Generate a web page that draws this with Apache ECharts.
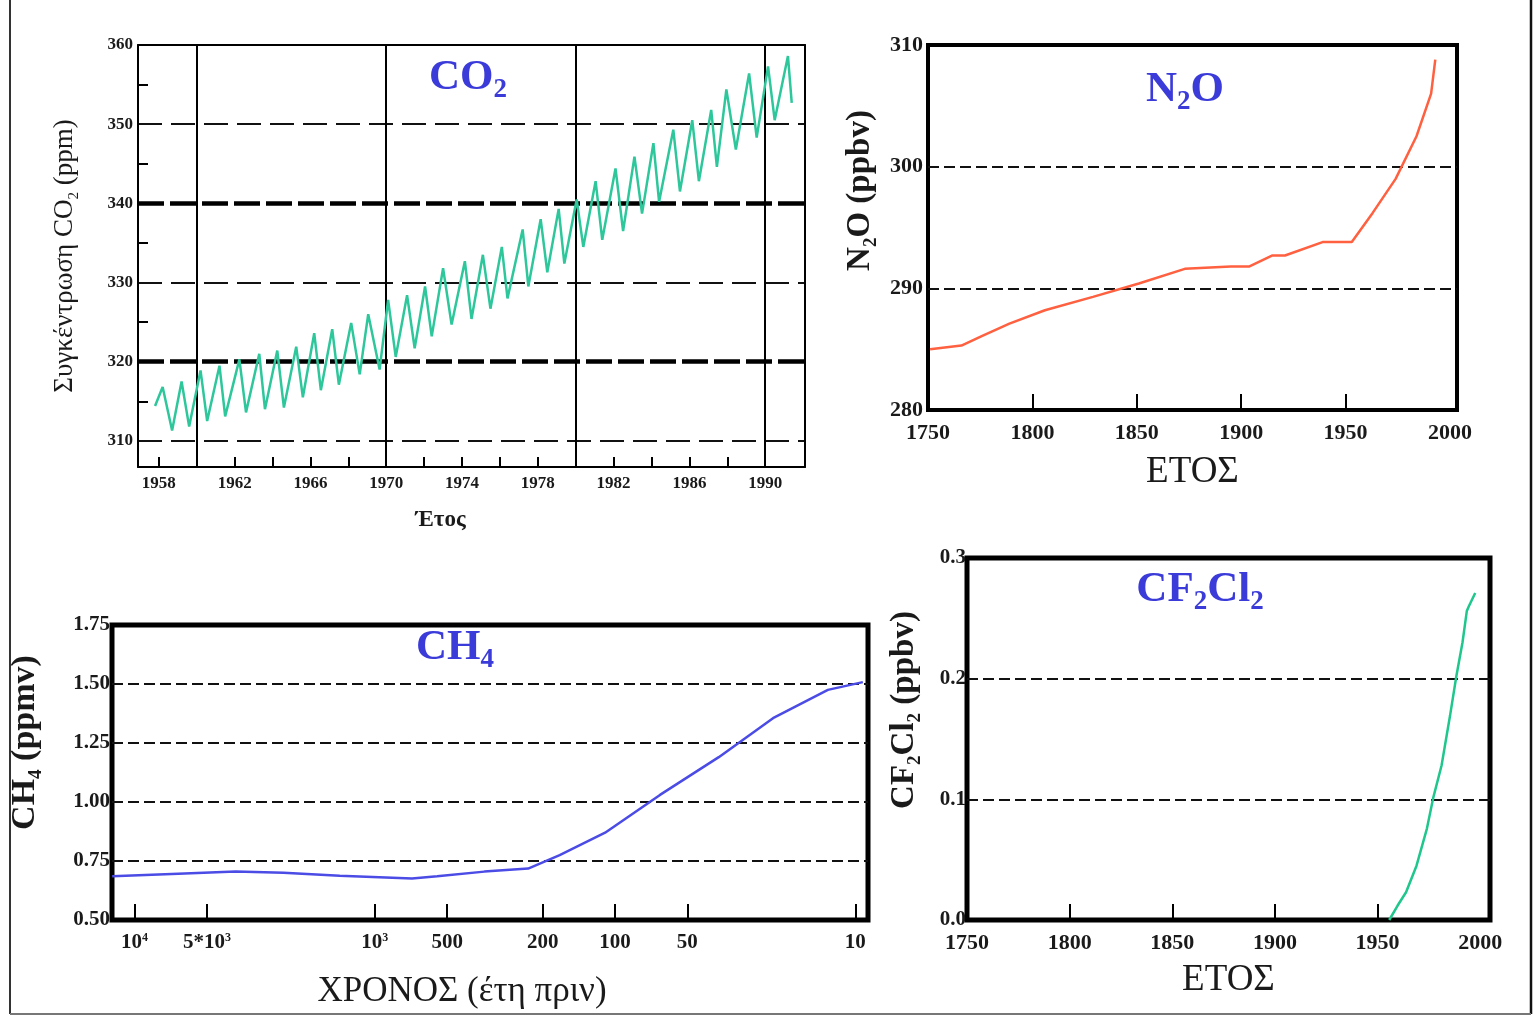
<!DOCTYPE html>
<html><head><meta charset="utf-8">
<script src="https://cdn.jsdelivr.net/npm/echarts@6/dist/echarts.min.js"></script>
<style>html,body{margin:0;padding:0;background:#fff}#c{width:1537px;height:1016px}</style>
</head><body><div id="c"></div>
<script>
// ---------- DATA ----------
// CO2 (seasonal record), years and ppm
const co2Years = [1957.8, 1958.2, 1958.7, 1959.2, 1959.6, 1960.2, 1960.55, 1961.2, 1961.5, 1962.25, 1962.6,
  1963.3, 1963.6, 1964.25, 1964.6, 1965.25, 1965.6, 1966.2, 1966.55, 1967.15, 1967.5, 1968.15, 1968.6,
  1969.05, 1969.65, 1970.1, 1970.5, 1971.1, 1971.5, 1972.05, 1972.4, 1973.0, 1973.45, 1974.15, 1974.5,
  1975.1, 1975.5, 1976.1, 1976.4, 1977.2, 1977.5, 1978.15, 1978.5, 1979.1, 1979.4, 1980.05, 1980.4,
  1981.05, 1981.4, 1982.1, 1982.5, 1983.1, 1983.5, 1984.1, 1984.4, 1985.15, 1985.5, 1986.15, 1986.5,
  1987.15, 1987.45, 1987.95, 1988.45, 1989.15, 1989.55, 1990.15, 1990.5, 1991.2, 1991.4];
const co2Values = [314.4, 316.8, 311.3, 317.5, 311.8, 318.9, 312.5, 319.5, 313.1, 320.3, 313.6,
  321.0, 314.0, 321.4, 314.2, 321.9, 315.5, 323.6, 316.4, 324.1, 317.1, 324.9, 318.4,
  326.0, 319.0, 327.8, 320.6, 328.4, 321.7, 329.5, 323.2, 331.8, 324.7, 332.7, 325.4,
  333.5, 326.7, 334.5, 328.0, 336.7, 329.5, 338.0, 331.3, 339.3, 332.4, 340.5, 334.5,
  342.8, 335.4, 344.4, 336.5, 345.9, 338.7, 347.6, 340.2, 349.3, 341.5, 350.5, 342.8,
  351.8, 344.6, 354.4, 346.8, 356.4, 348.3, 357.3, 350.5, 358.6, 352.7];
const co2TickYears = [1958, 1960, 1962, 1964, 1966, 1968, 1970, 1972, 1974, 1976, 1978, 1980, 1982, 1984, 1986, 1988, 1990];
const co2LabelYears = [1958, 1962, 1966, 1970, 1974, 1978, 1982, 1986, 1990];
const co2DecadeYears = [1960, 1970, 1980, 1990];
const co2LabelValues = [310, 320, 330, 340, 350, 360];
const co2MinorTicks = [315, 325, 335, 345, 355];
const co2ThickGrid = [320, 340];
const co2ThinGrid = [310, 330, 350];

// N2O (ppbv)
const n2oYears = [1751, 1766, 1776, 1789, 1806, 1829, 1851, 1873, 1895, 1904, 1915, 1921, 1939, 1953, 1963, 1974, 1984, 1991, 1993];
const n2oValues = [285.0, 285.3, 286.1, 287.1, 288.2, 289.3, 290.4, 291.6, 291.8, 291.8, 292.7, 292.7, 293.8, 293.8, 296.2, 299.0, 302.5, 306.0, 308.8];
const n2oLabelYears = [1750, 1800, 1850, 1900, 1950, 2000];
const n2oTickYears = [1800, 1850, 1900, 1950];
const n2oLabelValues = [280, 290, 300, 310];
const n2oGrid = [290, 300];

// CH4 (ppmv) vs years before present
const ch4YearsBP = [12400, 7000, 3800, 2400, 1400, 700, 550, 350, 230, 170, 110, 65, 37, 22, 13, 9.3];
const ch4Values = [0.685, 0.695, 0.705, 0.700, 0.688, 0.676, 0.685, 0.705, 0.718, 0.775, 0.870, 1.030, 1.190, 1.355, 1.475, 1.508];
const ch4TickValues = [10000, 5000, 1000, 500, 200, 100, 50, 10];
const ch4TickLabels = ['10⁴', '5*10³', '10³', '500', '200', '100', '50', '10'];
const ch4LabelValues = [0.5, 0.75, 1.0, 1.25, 1.5, 1.75];
const ch4Grid = [0.75, 1.0, 1.25, 1.5];

// CF2Cl2 (ppbv)
const cfcYears = [1955.7, 1959.8, 1963.9, 1969.0, 1974.1, 1977.1, 1981.2, 1985.3, 1988.4, 1991.4, 1993.5, 1994.5, 1997.6];
const cfcValues = [0.000, 0.012, 0.023, 0.045, 0.076, 0.101, 0.128, 0.169, 0.202, 0.230, 0.256, 0.260, 0.271];
const cfcLabelYears = [1750, 1800, 1850, 1900, 1950, 2000];
const cfcTickYears = [1800, 1850, 1900, 1950];
const cfcLabelValues = [0.0, 0.1, 0.2, 0.3];
const cfcGrid = [0.1, 0.2];

// ---------- CHART ----------
const F = 'Liberation Serif';
const TXT = '#1a1a1a';
const BLUE = '#3b3bd9';
const zip = (a, b) => a.map((v, i) => [v, b[i]]);
const plain = v => String(Math.round(v));
const supMap = {'⁰':'0','¹':'1','²':'2','³':'3','⁴':'4','⁵':'5','⁶':'6','⁷':'7','⁸':'8','⁹':'9'};
function richSup(s) {
  let out = '', buf = '';
  for (const ch of s) {
    if (supMap[ch]) { if (buf) { out += '{a|' + buf + '}'; buf = ''; } out += '{p|' + supMap[ch] + '}'; }
    else buf += ch;
  }
  if (buf) out += '{a|' + buf + '}';
  return out;
}
function labelStyle(size, extra) {
  return Object.assign({fontFamily: F, fontWeight: 'bold', fontSize: size, color: TXT}, extra || {});
}
function subRich(big, small, weight, color) {
  return {
    a: {fontFamily: F, fontWeight: weight, fontSize: big, lineHeight: big + 8, color: color, verticalAlign: 'middle'},
    b: {fontFamily: F, fontWeight: weight, fontSize: small, lineHeight: small, color: color, verticalAlign: 'bottom'}
  };
}

const chart = echarts.init(document.getElementById('c'), null, {renderer: 'canvas'});

const grids = [
  {left: 138, top: 45, width: 667, height: 422},
  {left: 928, top: 45, width: 529, height: 365, show: true, borderWidth: 4, borderColor: '#000'},
  {left: 112, top: 625, width: 756, height: 295, show: true, borderWidth: 5, borderColor: '#000'},
  {left: 967, top: 558, width: 523, height: 362, show: true, borderWidth: 5, borderColor: '#000'}
];

const co2XMin = 1956.9, co2XMax = 1992.1, co2YMin = 306.7, co2YMax = 360;

const xAxes = [
  // 0: CO2 bottom
  {gridIndex: 0, type: 'value', min: co2XMin, max: co2XMax, position: 'bottom',
   axisLine: {show: true, onZero: false, lineStyle: {color: '#000', width: 2}},
   axisTick: {show: true, inside: true, length: 10, customValues: co2TickYears, lineStyle: {color: '#000', width: 2}},
   axisLabel: Object.assign({customValues: co2LabelYears, margin: 8, formatter: plain}, labelStyle(17)),
   splitLine: {show: false},
   name: 'Έτος', nameLocation: 'middle', nameGap: 42,
   nameTextStyle: {fontFamily: F, fontWeight: 'bold', fontSize: 23, color: TXT, padding: [0, 62, 0, 0]}},
  // 1: CO2 top (border + decade lines)
  {gridIndex: 0, type: 'value', min: co2XMin, max: co2XMax, position: 'top',
   axisLine: {show: true, onZero: false, lineStyle: {color: '#000', width: 2}},
   axisTick: {show: false, customValues: co2DecadeYears},
   axisLabel: {show: false},
   splitLine: {show: true, lineStyle: {color: '#000', width: 2, type: 'solid'}}},
  // 2: N2O
  {gridIndex: 1, type: 'value', min: 1750, max: 2003.4,
   axisLine: {show: false},
   axisTick: {show: true, inside: true, length: 16, customValues: n2oTickYears, lineStyle: {color: '#000', width: 2}},
   axisLabel: Object.assign({customValues: n2oLabelYears, margin: 12, showMinLabel: true, showMaxLabel: true, formatter: plain}, labelStyle(22)),
   splitLine: {show: false},
   name: 'ΕΤΟΣ', nameLocation: 'middle', nameGap: 44,
   nameTextStyle: {fontFamily: F, fontWeight: 'normal', fontSize: 37, color: TXT}},
  // 3: CH4 (log, reversed)
  {gridIndex: 2, type: 'log', logBase: 10, min: 8.85, max: 12420, inverse: true,
   axisLine: {show: false},
   axisTick: {show: true, inside: true, length: 16, customValues: ch4TickValues, lineStyle: {color: '#000', width: 2}},
   axisLabel: {customValues: ch4TickValues, margin: 12, showMinLabel: true, showMaxLabel: true,
     fontFamily: F, fontWeight: 'bold', fontSize: 21, color: TXT,
     formatter: function (v) {
       let best = 0, bd = 1e9;
       ch4TickValues.forEach((t, i) => { const d = Math.abs(Math.log10(t) - Math.log10(v)); if (d < bd) { bd = d; best = i; } });
       return richSup(ch4TickLabels[best]);
     },
     rich: {a: {fontFamily: F, fontWeight: 'bold', fontSize: 21, color: TXT},
            p: {fontFamily: F, fontWeight: 'bold', fontSize: 12, color: TXT, verticalAlign: 'top', padding: [0, 0, 8, 0]}}},
   splitLine: {show: false},
   name: 'ΧΡΟΝΟΣ (έτη πριν)', nameLocation: 'middle', nameGap: 54,
   nameTextStyle: {fontFamily: F, fontWeight: 'normal', fontSize: 35, color: TXT, padding: [0, 56, 0, 0]}},
  // 4: CF2Cl2
  {gridIndex: 3, type: 'value', min: 1750, max: 2004.8,
   axisLine: {show: false},
   axisTick: {show: true, inside: true, length: 16, customValues: cfcTickYears, lineStyle: {color: '#000', width: 2}},
   axisLabel: Object.assign({customValues: cfcLabelYears, margin: 12, showMinLabel: true, showMaxLabel: true, formatter: plain}, labelStyle(22)),
   splitLine: {show: false},
   name: 'ΕΤΟΣ', nameLocation: 'middle', nameGap: 42,
   nameTextStyle: {fontFamily: F, fontWeight: 'normal', fontSize: 37, color: TXT}}
];

const thinDash = {color: '#111', width: 2, type: [24, 9]};
const shortDash = {color: '#111', width: 2, type: [11, 5]};

const yAxes = [
  // 0: CO2 left
  {gridIndex: 0, type: 'value', min: co2YMin, max: co2YMax, position: 'left',
   axisLine: {show: true, onZero: false, lineStyle: {color: '#000', width: 2}},
   axisTick: {show: true, inside: true, length: 10, customValues: co2MinorTicks, lineStyle: {color: '#000', width: 2}},
   axisLabel: Object.assign({customValues: co2LabelValues, margin: 5, showMaxLabel: true, formatter: plain}, labelStyle(17)),
   splitLine: {show: false},
   name: '{a|Συγκέντρωση CO}{b|2}{a| (ppm)}', nameLocation: 'middle', nameGap: 56,
   nameTextStyle: {rich: subRich(27, 15, 'normal', TXT)}},
  // 1: CO2 right border + thick grid lines
  {gridIndex: 0, type: 'value', min: co2YMin, max: co2YMax, position: 'right',
   axisLine: {show: true, onZero: false, lineStyle: {color: '#000', width: 2}},
   axisTick: {show: false, customValues: co2ThickGrid},
   axisLabel: {show: false},
   splitLine: {show: true, lineStyle: {color: '#000', width: 4.5, type: [26, 6]}}},
  // 2: CO2 thin grid lines
  {gridIndex: 0, type: 'value', min: co2YMin, max: co2YMax, position: 'left',
   axisLine: {show: false},
   axisTick: {show: false, customValues: co2ThinGrid},
   axisLabel: {show: false},
   splitLine: {show: true, lineStyle: thinDash}},
  // 3: N2O
  {gridIndex: 1, type: 'value', min: 280, max: 310,
   axisLine: {show: false},
   axisTick: {show: false, customValues: n2oGrid},
   axisLabel: Object.assign({customValues: n2oLabelValues, margin: 5, showMinLabel: true, showMaxLabel: true}, labelStyle(22)),
   splitLine: {show: true, lineStyle: shortDash},
   name: '{a|N}{b|2}{a|O (ppbv)}', nameLocation: 'middle', nameGap: 47,
   nameTextStyle: {rich: subRich(33, 19, 'bold', TXT), padding: [0, 0, 0, 74]}},
  // 4: CH4
  {gridIndex: 2, type: 'value', min: 0.5, max: 1.75,
   axisLine: {show: false},
   axisTick: {show: false, customValues: ch4Grid},
   axisLabel: Object.assign({customValues: ch4LabelValues, margin: 2, showMinLabel: true, showMaxLabel: true,
     formatter: v => v.toFixed(2)}, labelStyle(21)),
   splitLine: {show: true, lineStyle: shortDash},
   name: '{a|CH}{b|4}{a| (ppmv)}', nameLocation: 'middle', nameGap: 66,
   nameTextStyle: {rich: subRich(34, 19, 'bold', TXT), padding: [0, 0, 0, 60]}},
  // 5: CF2Cl2
  {gridIndex: 3, type: 'value', min: 0, max: 0.3,
   axisLine: {show: false},
   axisTick: {show: false, customValues: cfcGrid},
   axisLabel: Object.assign({customValues: cfcLabelValues, margin: 1, showMinLabel: true, showMaxLabel: true,
     formatter: v => v.toFixed(1)}, labelStyle(21)),
   splitLine: {show: true, lineStyle: shortDash},
   name: '{a|CF}{b|2}{a|Cl}{b|2}{a| (ppbv)}', nameLocation: 'middle', nameGap: 42,
   nameTextStyle: {rich: subRich(33, 19, 'bold', TXT), padding: [0, 0, 0, 58]}}
];

function lineSeries(xi, yi, data, color, w) {
  return {type: 'line', xAxisIndex: xi, yAxisIndex: yi, data: data, showSymbol: false, symbol: 'none',
          smooth: false, lineStyle: {color: color, width: w}, z: 3, silent: true};
}

function title(text, x, y) {
  return {type: 'text', x: x, y: y, z: 10,
    style: {text: text, align: 'center', verticalAlign: 'middle',
      rich: {
        a: {fontFamily: F, fontWeight: 'bold', fontSize: 43, lineHeight: 52, fill: BLUE, verticalAlign: 'middle'},
        b: {fontFamily: F, fontWeight: 'bold', fontSize: 27, lineHeight: 27, fill: BLUE, verticalAlign: 'bottom'}
      }}};
}

const option = {
  animation: false,
  backgroundColor: '#fff',
  grid: grids,
  xAxis: xAxes,
  yAxis: yAxes,
  series: [
    lineSeries(0, 0, zip(co2Years, co2Values), '#2ec79b', 2.5),
    lineSeries(2, 3, zip(n2oYears, n2oValues), '#ff6040', 2.5),
    lineSeries(3, 4, zip(ch4YearsBP, ch4Values), '#4b4be6', 2.5),
    lineSeries(4, 5, zip(cfcYears, cfcValues), '#1fc78c', 2.5)
  ],
  graphic: [
    {type: 'line', shape: {x1: 10, y1: 0, x2: 10, y2: 1014}, style: {stroke: '#333', lineWidth: 2}},
    {type: 'line', shape: {x1: 1531, y1: 0, x2: 1531, y2: 1014}, style: {stroke: '#111', lineWidth: 2.5}},
    {type: 'line', shape: {x1: 10, y1: 1014, x2: 1531, y2: 1014}, style: {stroke: '#777', lineWidth: 2}},
    title('{a|CO}{b|2}', 468, 78),
    title('{a|N}{b|2}{a|O}', 1185, 90),
    title('{a|CH}{b|4}', 455, 648),
    title('{a|CF}{b|2}{a|Cl}{b|2}', 1200, 590)
  ]
};
chart.setOption(option);
</script>
</body></html>
